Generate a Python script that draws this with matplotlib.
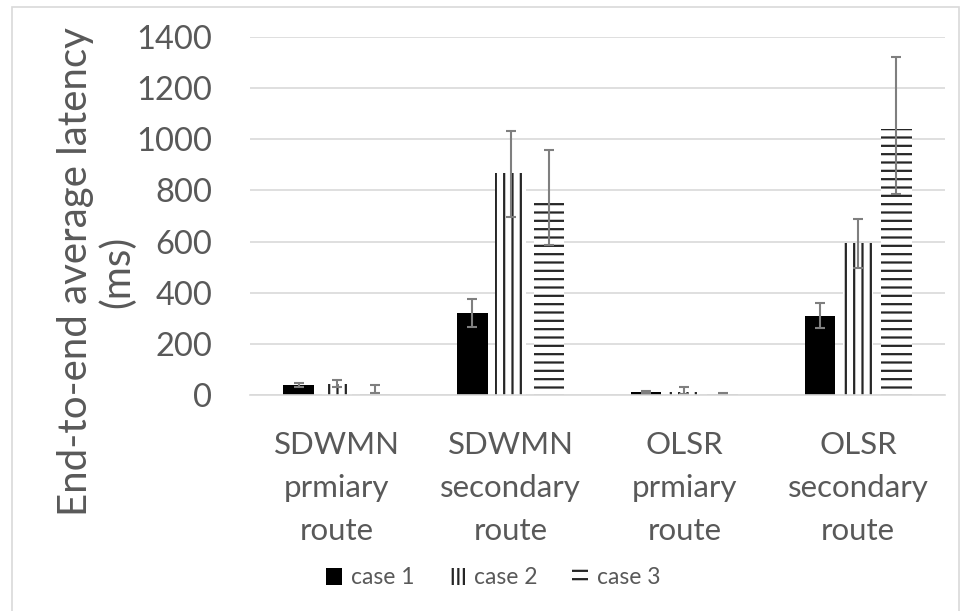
import matplotlib
matplotlib.use('Agg')
import matplotlib.pyplot as plt
import matplotlib.patches as mpatches
import numpy as np

plt.rcParams['font.family'] = ['Lato', 'DejaVu Sans']
plt.rcParams['hatch.linewidth'] = 1.6

# latency data (ms)
routes = ['SDWMN\nprmiary\nroute', 'SDWMN\nsecondary\nroute',
          'OLSR\nprmiary\nroute', 'OLSR\nsecondary\nroute']
cases = ['case 1', 'case 2', 'case 3']
case1 = [40, 320, 12, 310]
case2 = [42, 867, 10, 593]
case3 = [8, 765, 5, 1040]
case1_err_lo = [8, 55, 5, 48]
case1_err_hi = [8, 55, 5, 48]
case2_err_lo = [12, 170, 6, 98]
case2_err_hi = [15, 165, 20, 95]
case3_err_lo = [0, 180, 3, 255]
case3_err_hi = [30, 195, 3, 283]

grey = '#595959'
dark = '#262626'

fig = plt.figure(figsize=(9.61, 6.11), dpi=100)
ax = fig.add_axes([250/961, 216/611, 695/961, 358/611])

x = np.arange(len(routes))
w = 0.175
step = 0.22
err_kw = dict(ecolor='#7f7f7f', elinewidth=1.5, capsize=3.5, capthick=1.5)

ax.bar(x - step, case1, w, color='black', linewidth=0,
       yerr=[case1_err_lo, case1_err_hi], error_kw=err_kw, zorder=2)
ax.bar(x, case2, w, color='white', edgecolor=dark, hatch='||', linewidth=0,
       yerr=[case2_err_lo, case2_err_hi], error_kw=err_kw, zorder=2)
ax.bar(x + step, case3, w, color='white', edgecolor=dark, hatch='--', linewidth=0,
       yerr=[case3_err_lo, case3_err_hi], error_kw=err_kw, zorder=2)

ax.set_xlim(-0.5, len(routes) - 0.5)
ax.set_ylim(0, 1400)
ax.set_yticks(range(0, 1401, 200))
ax.yaxis.grid(True, color='#d9d9d9', linewidth=1.2)
ax.set_axisbelow(True)
for s in ['top', 'right', 'left']:
    ax.spines[s].set_visible(False)
ax.spines['bottom'].set_color('#d9d9d9')
ax.spines['bottom'].set_linewidth(1.2)

ax.set_xticks(x)
ax.set_xticklabels(routes, linespacing=1.65)
ax.tick_params(axis='x', length=0, pad=26, labelsize=22.5, labelcolor=grey)
ax.tick_params(axis='y', length=0, pad=27, labelsize=23.5, labelcolor=grey)

# label is centred on the whole plot block, not just the value axis
ax.set_ylabel('End-to-end average latency\n(ms)', fontsize=29, color=grey,
              linespacing=1.15)
ax.yaxis.set_label_coords(-0.163, 0.345)

handles = [mpatches.Patch(facecolor='black', linewidth=0),
           mpatches.Patch(facecolor='white', edgecolor=dark, hatch='|||', linewidth=0),
           mpatches.Patch(facecolor='white', edgecolor=dark, hatch='--', linewidth=0)]
fig.legend(handles, cases, loc='center', bbox_to_anchor=(493/961, 1 - 578/611),
           ncol=3, frameon=False, fontsize=16.5, labelcolor=grey,
           handlelength=0.7, handleheight=0.7, handletextpad=0.4, columnspacing=1.5)

# chart border
fig.patches.append(mpatches.Rectangle((12/961, -0.01), 947/961, 1 - 7/611 + 0.01,
                                      transform=fig.transFigure, fill=False,
                                      edgecolor='#d9d9d9', linewidth=1.2))

fig.savefig('out.png', dpi=100)
